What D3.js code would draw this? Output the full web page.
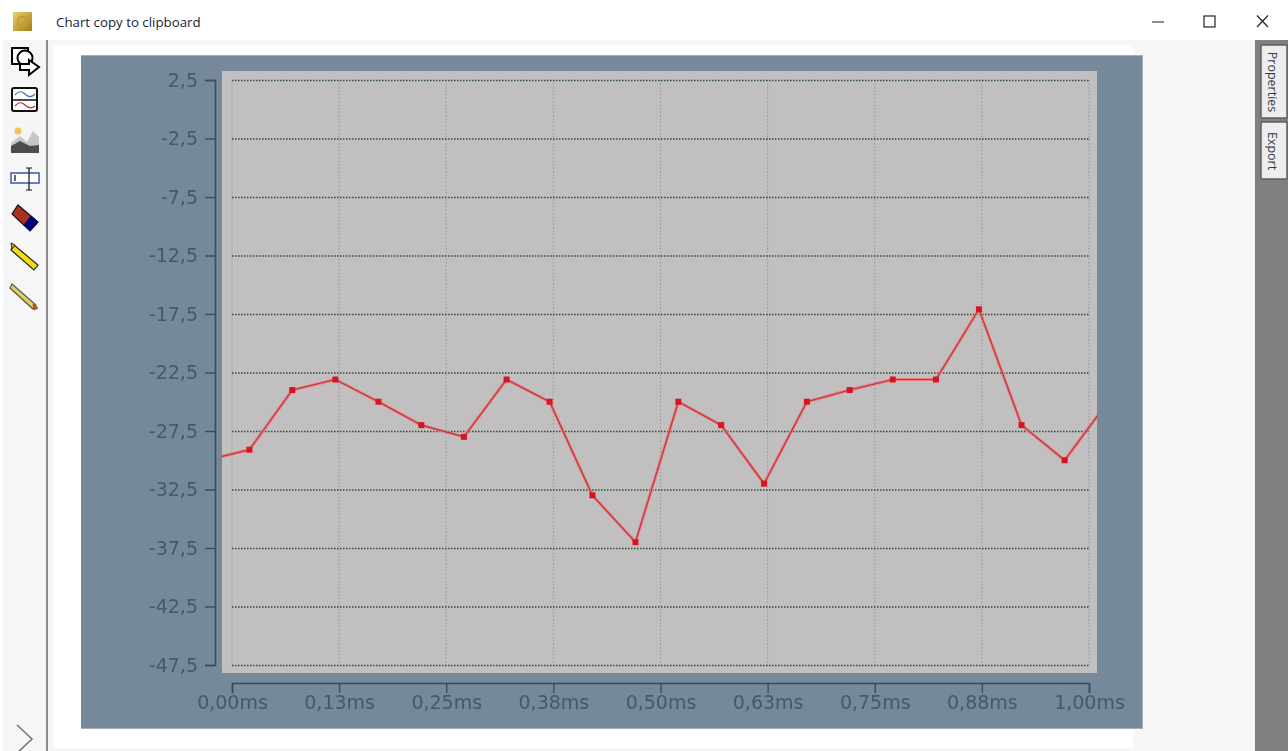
<!DOCTYPE html>
<html><head><meta charset="utf-8">
<script src="https://cdn.jsdelivr.net/npm/d3@7/dist/d3.min.js"></script>
<style>
html,body{margin:0;padding:0;background:#fff;overflow:hidden}
svg{display:block}
text{font-family:"DejaVu Sans",sans-serif}
</style></head><body>
<svg id="c" width="1288" height="751"></svg>
<script>
const times=[-0.03,0.0203,0.0703,0.1206,0.1709,0.2209,0.2706,0.3204,0.3706,0.4206,0.4708,0.5208,0.5708,0.6208,0.6708,0.7208,0.771,0.8214,0.8716,0.9213,0.9716,1.022];
const values=[-30,-29.1,-24,-23.1,-25,-27,-28,-23.1,-25,-33,-37,-25,-27,-32,-25,-24,-23.1,-23.1,-17.1,-27,-30,-25];
const yTicks=[2.5,-2.5,-7.5,-12.5,-17.5,-22.5,-27.5,-32.5,-37.5,-42.5,-47.5];
const xTicks=[0,0.125,0.25,0.375,0.5,0.625,0.75,0.875,1];
const xTickLabels=["0,00ms","0,13ms","0,25ms","0,38ms","0,50ms","0,63ms","0,75ms","0,88ms","1,00ms"];
const windowTitle="Chart copy to clipboard";
const sideTabs=["Properties","Export"];

const svg=d3.select("#c");
const rect=(p,x,y,w,h,f,extra={})=>{const r=p.append("rect").attr("x",x).attr("y",y).attr("width",w).attr("height",h).attr("fill",f);Object.entries(extra).forEach(([k,v])=>r.attr(k,v));return r;};
const path=(p,d,f,s,sw=1)=>p.append("path").attr("d",d).attr("fill",f).attr("stroke",s).attr("stroke-width",sw);

// window chrome
rect(svg,0,0,1288,751,"#ffffff");
rect(svg,0,40,1288,711,"#f6f6f6");
rect(svg,0,40,3,711,"#ffffff");
rect(svg,53,45,1080,703,"#ffffff");
rect(svg,46,40,2,711,"#8a8a8a");
rect(svg,1255,40,33,711,"#808080");

// title bar
const defs=svg.append("defs");
const g=defs.append("linearGradient").attr("id","gold").attr("x1",0).attr("y1",0).attr("x2",1).attr("y2",1);
g.append("stop").attr("offset",0).attr("stop-color","#e8cf70");
g.append("stop").attr("offset",1).attr("stop-color","#a97d10");
rect(svg,13,12,19,19,"url(#gold)");
svg.append("circle").attr("cx",22.5).attr("cy",21.5).attr("r",5).attr("fill","none").attr("stroke","#c29a34").attr("stroke-width",1.5);
svg.append("text").attr("x",56).attr("y",27).attr("font-size",13.3).attr("fill","#22223a").style("font-family","'Open Sans',sans-serif").text(windowTitle);
path(svg,"M1152 22H1164","none","#444",1.2);
rect(svg,1204,16,11,11,"none",{stroke:"#222","stroke-width":1.2});
path(svg,"M1257 15.5L1268 27M1268 15.5L1257 27","none","#222",1.2);

// toolbar icons
const tb=svg.append("g");
path(tb,"M12 48H28V64H12Z","#fff","#000",2);
tb.append("circle").attr("cx",25).attr("cy",58).attr("r",7.5).attr("fill","#fff").attr("stroke","#000").attr("stroke-width",2);
path(tb,"M20 64H29V60L39 67L29 75V70H20Z","#fff","#000",2);
rect(tb,12,88,25,23,"#fff",{stroke:"#111","stroke-width":2,rx:2});
path(tb,"M12 100H37","none","#111",1.5);
path(tb,"M15 95Q20 89 25 94T35 94","none","#4a6fc0",1.2);
path(tb,"M15 106Q20 100 25 105T35 106","none","#b03040",1.2);
rect(tb,11,126,28,28,"#f4f4f4");
tb.append("circle").attr("cx",18).attr("cy",131).attr("r",3.5).attr("fill","#ecc94f");
path(tb,"M11 143L20 136L27 142L33 131L39 137V153H11Z","#c6c6c6","none");
path(tb,"M11 146L20 141L30 146L39 145V153H11Z","#4c4c4c","none");
rect(tb,11,173,28,10,"#fff",{stroke:"#3a56b0","stroke-width":1.5});
rect(tb,14,175,2,6,"#666");
path(tb,"M26 168H32M29 168V190M26 190H32","none","#111",1.2);
path(tb,"M18 205L38 222L30 231L12 214Z","#a63320","#111",1.2);
path(tb,"M31 216L38 222L30 231L24 225Z","#00008b","#111",1);
path(tb,"M14 245L38 265L34 270L11 250Z","#f2de10","#222",1.2);
path(tb,"M11 243L15 245L12 249Z","#d8c010","#222",1);
path(tb,"M12 284L36 305L33 309L10 288Z","#e6cf58","#555",1.2);
path(tb,"M33 304L38 308L34 310Z","#c05010","#c05010",1);
path(tb,"M17 725L32 739L17 753","none","#777",1.6);

// side tabs
const tabDefs=[[1262,46,25,72],[1262,123,25,56]];
tabDefs.forEach((t,i)=>{
  rect(svg,t[0]-1,t[1]-1,t[2]+1,t[3]+1,"#eeeeee",{stroke:"#5f5f5f","stroke-width":1.5,rx:1});
  const cy=t[1]+t[3]/2;
  svg.append("text").attr("transform",`translate(${t[0]+6},${cy}) rotate(90)`).attr("text-anchor","middle")
    .attr("font-size",12.5).attr("fill","#2f3d4a").style("font-family","'Open Sans',sans-serif").text(sideTabs[i]);
});

// chart
const chart=svg.append("g").style("filter","blur(0.5px)");
rect(chart,81,55,1062,674,"#76899a");
path(chart,"M81 55.5H1143M1142.5 55V729M81 728.5H1143","none","#a3aeb8",1);
rect(chart,222,71,875,602,"#c1bfbf");

const x=d3.scaleLinear().domain([0,1]).range([232,1089]);
const y=d3.scaleLinear().domain([2.5,-47.5]).range([80,665]);

// grid
chart.append("g").selectAll("line").data(xTicks).join("line")
  .attr("x1",d=>x(d)).attr("x2",d=>x(d)).attr("y1",y(2.5)).attr("y2",y(-47.5))
  .attr("stroke","#8f9a94").attr("stroke-width",1).attr("stroke-dasharray","1.5 2");
chart.append("g").selectAll("line").data(yTicks).join("line")
  .attr("x1",x(0)).attr("x2",x(1)).attr("y1",d=>y(d)+0.5).attr("y2",d=>y(d)+0.5)
  .attr("stroke","#2f4a3c").attr("stroke-width",1.5).attr("stroke-dasharray","1.5 1.5");

// axes
const axisColor="#2f5060", labelColor="#46596a";
const yAxis=d3.axisLeft(y).tickValues(yTicks).tickSizeOuter(0).tickSize(10).tickPadding(7).tickFormat(d=>String(d).replace(".",","));
const xAxis=d3.axisBottom(x).tickValues(xTicks).tickSizeOuter(0).tickSize(10).tickPadding(3).tickFormat((d,i)=>xTickLabels[i]);
const ya=chart.append("g").attr("transform","translate(215,0)").call(yAxis);
const xa=chart.append("g").attr("transform","translate(0,683)").call(xAxis);
[ya,xa].forEach(a=>{
  a.selectAll("path.domain").attr("stroke",axisColor).attr("stroke-width",1.6);
  a.selectAll(".tick line").attr("stroke",axisColor).attr("stroke-width",1.4);
  a.selectAll("text").attr("fill",labelColor).attr("font-size",19).style("font-family","'DejaVu Sans',sans-serif");
});

// series
chart.append("clipPath").attr("id","plot").append("rect").attr("x",222).attr("y",71).attr("width",875).attr("height",602);
const pts=times.map((t,i)=>[t,values[i]]);
const line=d3.line().x(d=>x(d[0])).y(d=>y(d[1]));
const s=chart.append("g").attr("clip-path","url(#plot)");
s.append("path").attr("d",line(pts)).attr("fill","none").attr("stroke","#f0787c").attr("stroke-width",3);
s.append("path").attr("d",line(pts)).attr("fill","none").attr("stroke","#b03a40").attr("stroke-width",1.1);
s.selectAll("rect").data(pts).join("rect")
  .attr("x",d=>x(d[0])-3).attr("y",d=>y(d[1])-3).attr("width",6).attr("height",6).attr("fill","#d81420");
</script>
</body></html>
